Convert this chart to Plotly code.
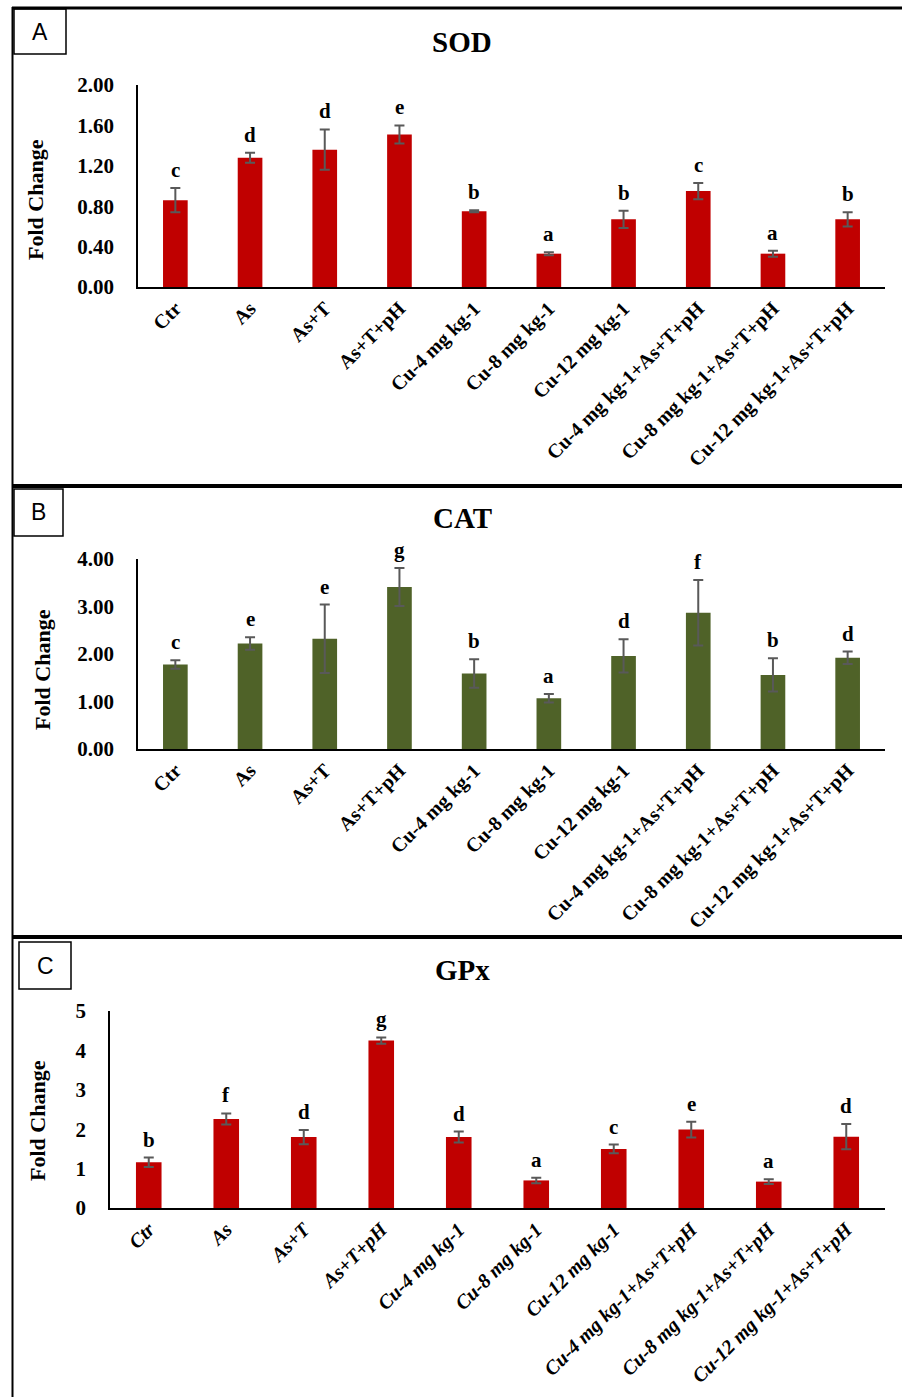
import plotly.graph_objects as go

categories = ["Ctr", "As", "As+T", "As+T+pH", "Cu-4 mg kg-1", "Cu-8 mg kg-1",
              "Cu-12 mg kg-1", "Cu-4 mg kg-1+As+T+pH", "Cu-8 mg kg-1+As+T+pH",
              "Cu-12 mg kg-1+As+T+pH"]

sod_values = [0.86, 1.28, 1.36, 1.51, 0.75, 0.33, 0.67, 0.95, 0.33, 0.67]
sod_errors = [0.12, 0.05, 0.20, 0.09, 0.01, 0.015, 0.085, 0.08, 0.03, 0.07]
sod_letters = ["c", "d", "d", "e", "b", "a", "b", "c", "a", "b"]

cat_values = [1.78, 2.22, 2.32, 3.41, 1.59, 1.07, 1.96, 2.87, 1.56, 1.92]
cat_errors = [0.09, 0.13, 0.72, 0.40, 0.30, 0.09, 0.35, 0.69, 0.35, 0.13]
cat_letters = ["c", "e", "e", "g", "b", "a", "d", "f", "b", "d"]

gpx_values = [1.16, 2.26, 1.80, 4.25, 1.80, 0.70, 1.50, 1.99, 0.67, 1.81]
gpx_errors = [0.12, 0.14, 0.18, 0.08, 0.14, 0.07, 0.11, 0.20, 0.06, 0.32]
gpx_letters = ["b", "f", "d", "g", "d", "a", "c", "e", "a", "d"]

W, H = 902, 1397
def px(x):
    return x / W
def py(y):
    return 1 - y / H

SERIF = "Liberation Serif, Times New Roman, serif"
ERR_COLOR = "#595959"

panels = [
    dict(name="SOD", vals=sod_values, errs=sod_errors, letters=sod_letters,
         color="#C00000", xdom=[px(138), px(885)], ydom=[py(287), py(85)],
         rng=[0, 2], dtick=0.4, fmt=".2f", italic=False, label="A",
         title_y=42, ytitle_x=35, ytitle_y=200,
         box=(14, 9, 66, 54)),
    dict(name="CAT", vals=cat_values, errs=cat_errors, letters=cat_letters,
         color="#4F6228", xdom=[px(138), px(885)], ydom=[py(749), py(559)],
         rng=[0, 4], dtick=1, fmt=".2f", italic=False, label="B",
         title_y=518, ytitle_x=42, ytitle_y=670,
         box=(14, 489, 63, 536)),
    dict(name="GPx", vals=gpx_values, errs=gpx_errors, letters=gpx_letters,
         color="#C00000", xdom=[px(110), px(885)], ydom=[py(1208), py(1011)],
         rng=[0, 5], dtick=1, fmt="d", italic=True, label="C",
         title_y=970, ytitle_x=37, ytitle_y=1121,
         box=(19, 942, 71, 989)),
]

fig = go.Figure()
annotations = []
shapes = []

for i, p in enumerate(panels):
    n = "" if i == 0 else str(i + 1)
    xa, ya = "x" + n, "y" + n
    fig.add_trace(go.Bar(
        x=categories, y=p["vals"], xaxis=xa, yaxis=ya,
        marker=dict(color=p["color"], line=dict(width=0)),
        width=0.33,
        error_y=dict(type="data", array=p["errs"], visible=True,
                     color=ERR_COLOR, thickness=2, width=5),
        showlegend=False,
    ))
    if p["italic"]:
        ticktext = ["<b><i>%s</i></b>" % c for c in categories]
    else:
        ticktext = ["<b>%s</b>" % c for c in categories]
    tickfont = dict(family=SERIF, size=20, color="black")
    fig.update_layout(**{
        "xaxis" + n: dict(domain=p["xdom"], anchor=ya, type="category",
                          categoryorder="array", categoryarray=categories,
                          tickmode="array", tickvals=categories, ticktext=ticktext,
                          tickangle=-45, tickfont=tickfont, automargin=False,
                          showline=True, linecolor="black", linewidth=2,
                          ticks="", showgrid=False, zeroline=False,
                          fixedrange=True),
        "yaxis" + n: dict(domain=p["ydom"], anchor=xa, range=p["rng"],
                          dtick=p["dtick"], tickformat=p["fmt"], automargin=False,
                          tickfont=dict(family=SERIF, size=21, color="black",
                                        weight="bold"),
                          showline=True, linecolor="black", linewidth=1.5,
                          ticks="outside", ticklen=18, tickcolor="rgba(0,0,0,0)",
                          showgrid=False, zeroline=False, fixedrange=True),
    })
    # significance letters
    for c, v, e, l in zip(categories, p["vals"], p["errs"], p["letters"]):
        annotations.append(dict(x=c, y=v + e, xref=xa, yref=ya, text="<b>%s</b>" % l,
                                showarrow=False, yanchor="bottom", yshift=4,
                                font=dict(family=SERIF, size=21, color="black")))
    # title
    annotations.append(dict(x=px(462), y=py(p["title_y"]), xref="paper", yref="paper",
                            text="<b>%s</b>" % p["name"], showarrow=False,
                            xanchor="center", yanchor="middle",
                            font=dict(family=SERIF, size=29, color="black")))
    # y title
    annotations.append(dict(x=px(p["ytitle_x"]), y=py(p["ytitle_y"]), xref="paper",
                            yref="paper", text="<b>Fold Change</b>", showarrow=False,
                            textangle=-90, xanchor="center", yanchor="middle",
                            font=dict(family=SERIF, size=22, color="black")))
    # panel label box
    x0, y0, x1, y1 = p["box"]
    shapes.append(dict(type="rect", xref="paper", yref="paper",
                       x0=px(x0), x1=px(x1), y0=py(y1), y1=py(y0),
                       line=dict(color="black", width=1.5), fillcolor="white"))
    annotations.append(dict(x=px((x0 + x1) / 2), y=py((y0 + y1) / 2), xref="paper",
                            yref="paper", text=p["label"], showarrow=False,
                            xanchor="center", yanchor="middle",
                            font=dict(family="Liberation Sans Narrow, Liberation Sans, sans-serif",
                                      size=23, color="black")))

# panel borders
shapes.append(dict(type="line", xref="paper", yref="paper", x0=px(12), x1=1,
                   y0=py(8), y1=py(8), line=dict(color="black", width=3)))
shapes.append(dict(type="line", xref="paper", yref="paper", x0=px(12.5), x1=px(12.5),
                   y0=py(7), y1=0, line=dict(color="black", width=2)))
shapes.append(dict(type="line", xref="paper", yref="paper", x0=px(12), x1=1,
                   y0=py(486), y1=py(486), line=dict(color="black", width=4)))
shapes.append(dict(type="line", xref="paper", yref="paper", x0=px(12), x1=1,
                   y0=py(937), y1=py(937), line=dict(color="black", width=4)))

fig.update_layout(width=W, height=H,
                  margin=dict(l=0, r=0, t=0, b=0, pad=0, autoexpand=False),
                  paper_bgcolor="white", plot_bgcolor="white",
                  annotations=annotations, shapes=shapes, bargap=0.67)

fig.write_html("out.html", config={"displayModeBar": False})
